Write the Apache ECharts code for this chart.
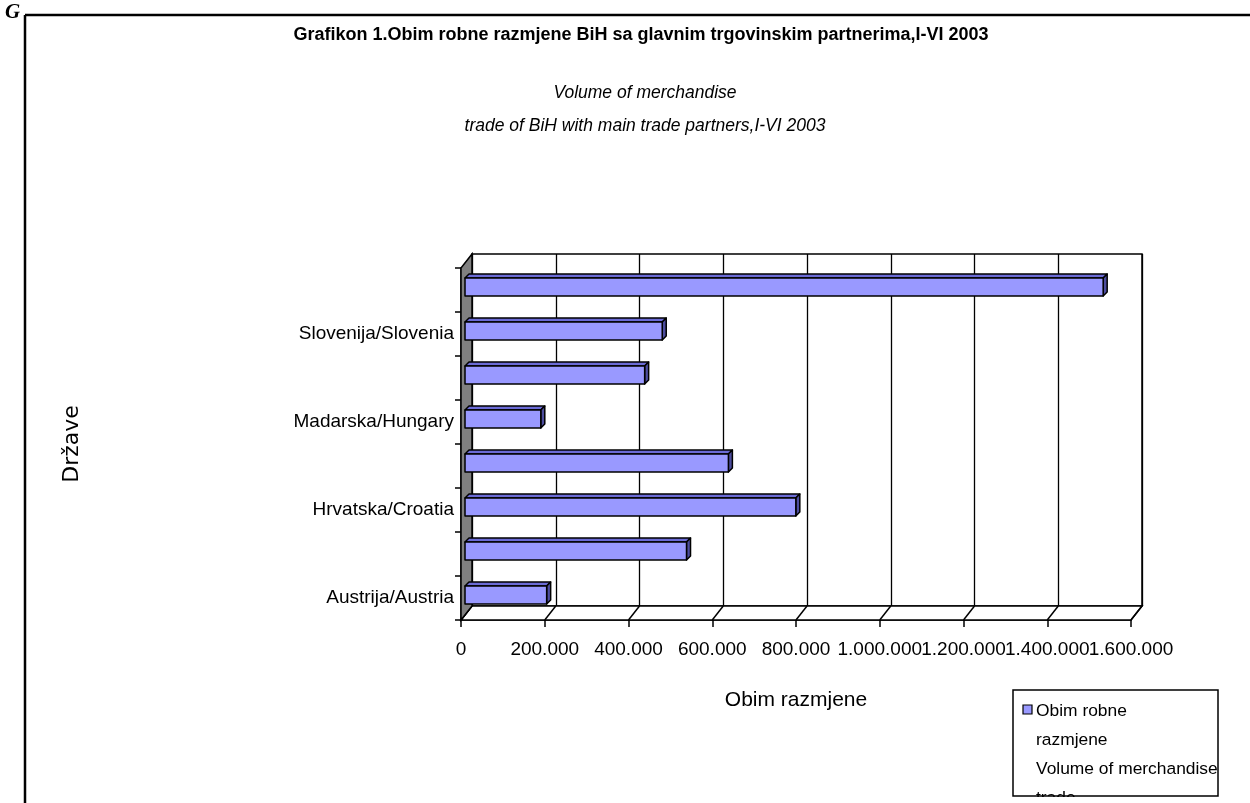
<!DOCTYPE html>
<html>
<head>
<meta charset="utf-8">
<script src="https://cdn.jsdelivr.net/npm/echarts@6/dist/echarts.min.js"></script>
<style>
html,body{margin:0;padding:0;background:#fff;}
#chart{width:1250px;height:803px;}
</style>
</head>
<body>
<div id="chart"></div>
<script>
// ---- data ----
const categories = ['Austrija/Austria','Italija/Italy','Hrvatska/Croatia','Njemačka/Germany','Madarska/Hungary','SCG/Serbia and Montenegro','Slovenija/Slovenia','Ostale zemlje/Other countries'];
const tradeVolume = [195000, 529000, 790000, 629000, 181000, 429000, 471000, 1524000];
const xTickValues = [0, 200000, 400000, 600000, 800000, 1000000, 1200000, 1400000, 1600000];
const xTickLabels = ['0','200.000','400.000','600.000','800.000','1.000.000','1.200.000','1.400.000','1.600.000'];
const titleText = 'Grafikon 1.Obim robne razmjene BiH sa glavnim trgovinskim partnerima,I-VI 2003';
const subtitleLines = ['Volume of merchandise','trade of BiH with main trade partners,I-VI 2003'];
const yAxisName = 'Države';
const xAxisName = 'Obim razmjene';
const legendLines = ['Obim robne','razmjene','Volume of merchandise','trade'];

// ---- style ----
const FONT = "'Liberation Sans', Arial, sans-serif";
const DEPTH = [11, -14];
const BAR_FRONT = [4, -3];
const BAR_DEPTH = 4;
const X_LABEL_OFFSET = 30;

const chart = echarts.init(document.getElementById('chart'), null, {renderer:'canvas'});

function renderBar(params, api){
  const v = api.value(0), c = api.value(1);
  const p0 = api.coord([0, c]);
  const p1 = api.coord([v, c]);
  const band = api.size([0, 1])[1];
  const h = band * 0.41;
  const cy = p0[1] + BAR_FRONT[1];
  const top = cy - h/2, bot = cy + h/2;
  const xl = p0[0] + BAR_FRONT[0], xr = p1[0] + BAR_FRONT[0];
  const d = BAR_DEPTH;
  const stroke = {stroke:'#000', lineWidth:1.5, lineJoin:'round'};
  return {type:'group', children:[
    {type:'polygon', shape:{points:[[xl,top],[xr,top],[xr+d,top-d],[xl+d,top-d]]}, style:Object.assign({fill:'#6b6bd6'}, stroke)},
    {type:'polygon', shape:{points:[[xr,top],[xr+d,top-d],[xr+d,bot-d],[xr,bot]]}, style:Object.assign({fill:'#4d4d9e'}, stroke)},
    {type:'rect', shape:{x:xl, y:top, width:xr-xl, height:bot-top}, style:Object.assign({fill:'#9999ff'}, stroke)}
  ]};
}

function renderFrame(params, api){
  const band = api.size([0,1])[1];
  const bottomY = api.coord([0, 0])[1] + band/2;
  const topY = api.coord([0, categories.length-1])[1] - band/2;
  const x0 = api.coord([xTickValues[0], 0])[0];
  const x1 = api.coord([xTickValues[xTickValues.length-1], 0])[0];
  const children = [];
  children.push({type:'polygon', shape:{points:[[x0,bottomY],[x1,bottomY],[x1+DEPTH[0],bottomY+DEPTH[1]],[x0+DEPTH[0],bottomY+DEPTH[1]]]}, style:{fill:'#fff', stroke:'#000', lineWidth:1.5}});
  xTickValues.forEach(function(t, i){
    const x = api.coord([t, 0])[0];
    children.push({type:'line', shape:{x1:x, y1:bottomY, x2:x+DEPTH[0], y2:bottomY+DEPTH[1]}, style:{stroke:'#000', lineWidth:1.5}});
    children.push({type:'text', x:x, y:bottomY + X_LABEL_OFFSET,
      style:{text:xTickLabels[i], fill:'#000', font:"19px 'Liberation Sans', Arial, sans-serif", textAlign:'center', textVerticalAlign:'middle'}});
  });
  children.push({type:'polygon', shape:{points:[[x0,topY],[x0+DEPTH[0],topY+DEPTH[1]],[x0+DEPTH[0],bottomY+DEPTH[1]],[x0,bottomY]]}, style:{fill:'#808080', stroke:'#000', lineWidth:1.5}});
  return {type:'group', children:children};
}

const option = {
  backgroundColor:'#fff',
  animation:false,
  title:[
    {text:titleText, left:636, top:21, textAlign:'center',
     textStyle:{fontFamily:FONT, fontSize:18, fontWeight:'bold', color:'#000'}},
    {text:subtitleLines.join('\n'), left:640, top:72, textAlign:'center',
     textStyle:{fontFamily:FONT, fontSize:17.5, fontStyle:'italic', fontWeight:'normal', color:'#000', lineHeight:33}}
  ],
  grid:[
    {left:461, right:119, top:268, bottom:183, show:false},
    {left:472, right:108, top:254, bottom:197, show:true, backgroundColor:'#fff', borderColor:'#000', borderWidth:1.5, z:0}
  ],
  xAxis:[
    {type:'value', gridIndex:0, min:0, max:1600000, interval:200000,
     axisLine:{show:true, lineStyle:{color:'#000', width:1.5}},
     axisTick:{show:true, length:7, lineStyle:{color:'#000', width:1.5}},
     splitLine:{show:false},
     axisLabel:{show:false},
     name:xAxisName, nameLocation:'middle', nameGap:70,
     nameTextStyle:{color:'#000', fontFamily:FONT, fontSize:21}},
    {type:'value', gridIndex:1, min:0, max:1600000, interval:200000,
     axisLine:{show:false}, axisTick:{show:false}, axisLabel:{show:false},
     splitLine:{show:true, lineStyle:{color:'#000', width:1.3}}}
  ],
  yAxis:[
    {type:'category', gridIndex:0, data:categories,
     axisLine:{show:true, lineStyle:{color:'#000', width:1.5}},
     axisTick:{show:true, length:6, interval:0, lineStyle:{color:'#000', width:1.5}},
     axisLabel:{color:'#000', fontFamily:FONT, fontSize:19, margin:7,
       interval:function(i){ return i % 2 === 0; }},
     name:yAxisName, nameLocation:'middle', nameGap:378, nameRotate:90,
     nameTextStyle:{color:'#000', fontFamily:"'DejaVu Sans', sans-serif", fontSize:22}},
    {type:'value', gridIndex:1, show:false, splitLine:{show:false}}
  ],
  series:[
    {type:'custom', name:'frame', xAxisIndex:0, yAxisIndex:0, renderItem:renderFrame,
     data:[[0,0]], z:1, silent:true},
    {type:'custom', name:legendLines.join(' '), xAxisIndex:0, yAxisIndex:0, renderItem:renderBar,
     encode:{x:0, y:1},
     data:tradeVolume.map(function(v,i){ return [v, i]; }), z:3}
  ],
  graphic:[
    {type:'line', shape:{x1:25, y1:15, x2:1250, y2:15}, style:{stroke:'#000', lineWidth:2.5}, z:10},
    {type:'line', shape:{x1:25, y1:15, x2:25, y2:803}, style:{stroke:'#000', lineWidth:2.5}, z:10},
    {type:'text', left:5, top:2, style:{text:'G', font:"italic bold 21px 'Liberation Serif', serif", fill:'#000'}, z:11},
    // legend
    {type:'rect', shape:{x:1013, y:690, width:205, height:106}, style:{fill:'#fff', stroke:null}, z:5},
    {type:'rect', shape:{x:1023, y:705, width:9, height:9}, style:{fill:'#9999ff', stroke:'#000', lineWidth:1.2}, z:6},
    {type:'text', x:1036, y:711, style:{text:legendLines[0], font:"17.4px 'Liberation Sans', Arial", fill:'#000', textVerticalAlign:'middle'}, z:6},
    {type:'text', x:1036, y:740, style:{text:legendLines[1], font:"17.4px 'Liberation Sans', Arial", fill:'#000', textVerticalAlign:'middle'}, z:6},
    {type:'text', x:1036, y:769, style:{text:legendLines[2], font:"17.4px 'Liberation Sans', Arial", fill:'#000', textVerticalAlign:'middle'}, z:6},
    {type:'text', x:1036, y:798, style:{text:legendLines[3], font:"17.4px 'Liberation Sans', Arial", fill:'#000', textVerticalAlign:'middle'}, z:6},
    {type:'rect', shape:{x:1010, y:797, width:240, height:10}, style:{fill:'#fff', stroke:null}, z:7},
    {type:'rect', shape:{x:1013, y:690, width:205, height:106}, style:{fill:null, stroke:'#000', lineWidth:1.5}, z:8}
  ]
};
chart.setOption(option);
</script>
</body>
</html>
